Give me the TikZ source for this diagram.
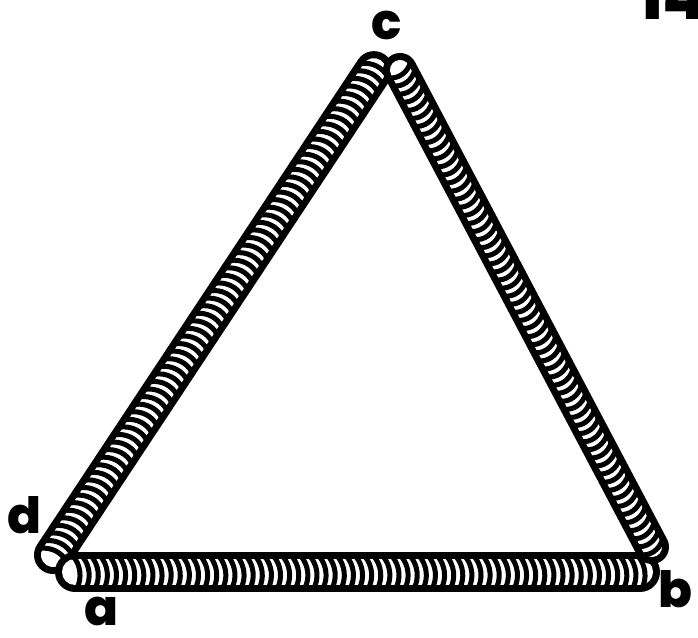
\documentclass[tikz,border=0pt]{standalone}
\usepackage{fontspec}
\newfontfamily\labfont{Poppins}[BoldFont={Poppins ExtraBold}]
\newcommand\coiltube[5]{%
  \pgfmathsetmacro\cl{veclen(#3-#1,#4-#2)}%
  \pgfmathsetmacro\ca{atan2(#4-#2,#3-#1)}%
  \pgfmathsetmacro\cr{#5/2-4}%
  \pgfmathtruncatemacro\cn{\cl/9}%
  \pgfmathsetmacro\cp{\cl/\cn}%
  \begin{scope}[shift={(#1,#2)},rotate=-\ca]
    \draw[line width=#5, line cap=round] (0,0) -- (\cl,0);
    \draw[white, line width=#5-14, line cap=round] (0,0) -- (\cl,0);
    \foreach \i in {0,...,\cn} {
      \draw[coilstripe] ({\i*\cp-2},-\cr) .. controls ({\i*\cp+6},{-\cr*0.4}) and ({\i*\cp+7},{\cr*0.4}) .. ({\i*\cp+2},\cr);
    }
  \end{scope}}
\tikzset{
  coilstripe/.style={line width=5, line cap=round, black},
  lbl/.style={font=\labfont\bfseries\fontsize{50}{50}\selectfont, inner sep=0pt, anchor=base}
}
\begin{document}
\begin{tikzpicture}[x=1pt,y=-1pt]
\useasboundingbox (0,0) rectangle (698,637);
\fill[white] (0,0) rectangle (698,637);
% tubes
\coiltube{53}{555}{374}{70}{38}
\coiltube{75}{572}{640}{572}{40}
\coiltube{400}{70}{652}{547}{34}
% labels
\node[lbl] (c) at (387,39) {c};
\node[lbl] (d) at (25,533) {d};
\node[lbl] (a) at (101,625) {a};
\node[lbl] (b) at (675,607) {b};
\begin{scope}
\clip (0,0) rectangle (698,637);
\node[lbl, anchor=base west, font=\labfont\bfseries\fontsize{64}{64}\selectfont] (pg) at (638,19) {14};
\end{scope}
\end{tikzpicture}
\end{document}
